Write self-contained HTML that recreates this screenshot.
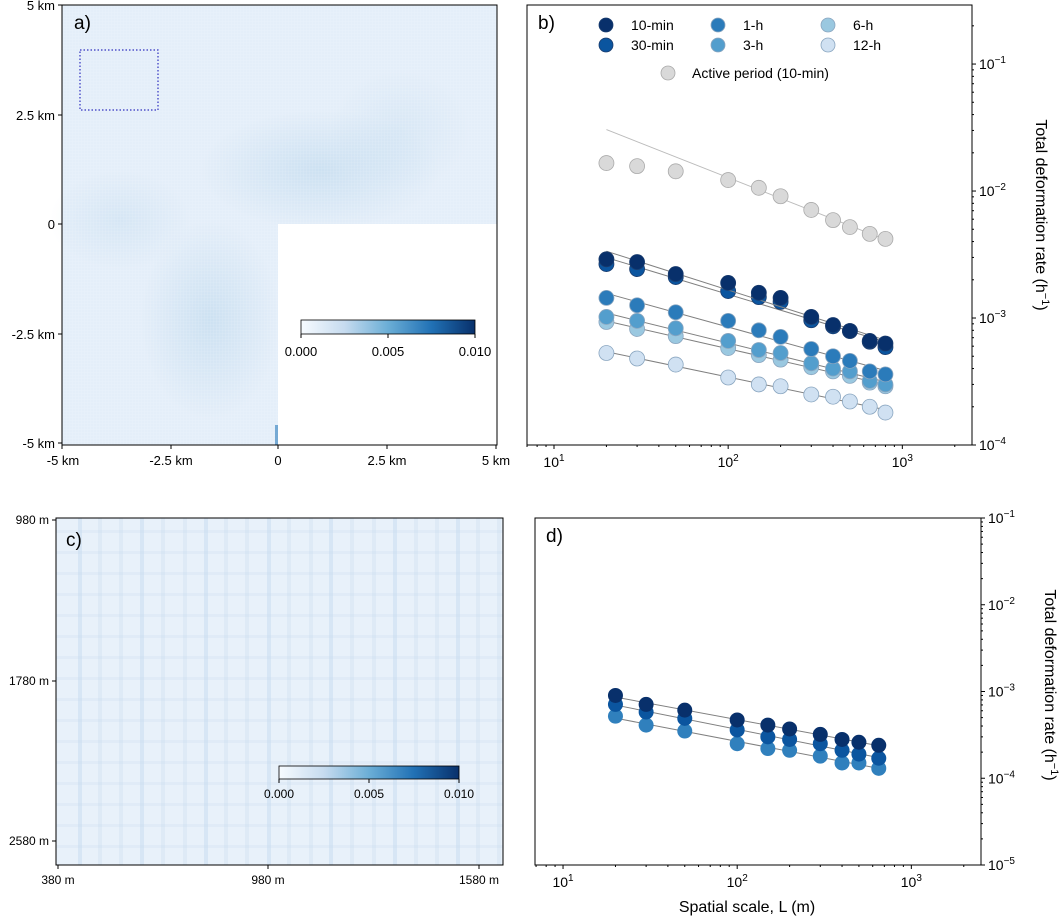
<!DOCTYPE html>
<html><head><meta charset="utf-8"><style>
body{margin:0;background:#fff;}
svg{display:block;font-family:"Liberation Sans","DejaVu Sans",sans-serif;}
</style></head><body>
<svg id="fig" width="1061" height="920" viewBox="0 0 1061 920" xmlns="http://www.w3.org/2000/svg">
<defs>
<linearGradient id="blues" x1="0" x2="1" y1="0" y2="0">
<stop offset="0" stop-color="#f7fbff"/><stop offset="0.25" stop-color="#c6dbef"/><stop offset="0.5" stop-color="#6baed6"/><stop offset="0.75" stop-color="#2171b5"/><stop offset="1" stop-color="#08306b"/>
</linearGradient>
<pattern id="gridA" width="3" height="3" patternUnits="userSpaceOnUse"><path d="M0 0H3M0 0V3" stroke="#ffffff" stroke-opacity="0.3" stroke-width="0.6"/></pattern>
<radialGradient id="blob"><stop offset="0" stop-color="#a9cde6" stop-opacity="0.4"/><stop offset="1" stop-color="#a9cde6" stop-opacity="0"/></radialGradient>
</defs>

<g>
<rect x="62" y="5" width="435" height="440" fill="#e4eef9"/>
<ellipse cx="320" cy="170" rx="120" ry="60" fill="url(#blob)"/>
<ellipse cx="210" cy="320" rx="70" ry="100" fill="url(#blob)"/>
<ellipse cx="120" cy="220" rx="70" ry="50" fill="url(#blob)" opacity="0.6"/>
<ellipse cx="400" cy="130" rx="70" ry="60" fill="url(#blob)" opacity="0.5"/>
<rect x="62" y="5" width="435" height="440" fill="url(#gridA)"/>
<rect x="278" y="224" width="219" height="221" fill="#fff"/>
<rect x="275" y="425" width="3" height="20" fill="#2b7bba" opacity="0.6"/>
<rect x="80" y="50" width="78" height="60" fill="none" stroke="#3030c0" stroke-width="1.2" stroke-dasharray="1.5,2"/>
<rect x="62" y="5" width="435" height="440" fill="none" stroke="#000" stroke-width="1"/>
<text x="74" y="29" font-size="19">a)</text>
<g font-size="13">
<g stroke="#000"><line x1="58" x2="62" y1="5" y2="5"/><line x1="58" x2="62" y1="115" y2="115"/><line x1="58" x2="62" y1="224" y2="224"/><line x1="58" x2="62" y1="334" y2="334"/><line x1="58" x2="62" y1="443" y2="443"/>
<line x1="62" x2="62" y1="445" y2="449"/><line x1="171" x2="171" y1="445" y2="449"/><line x1="278" x2="278" y1="445" y2="449"/><line x1="387" x2="387" y1="445" y2="449"/><line x1="496" x2="496" y1="445" y2="449"/></g>
<g text-anchor="end"><text x="55" y="10">5 km</text><text x="55" y="120">2.5 km</text><text x="55" y="229">0</text><text x="55" y="339">-2.5 km</text><text x="55" y="448">-5 km</text></g>
<g text-anchor="middle"><text x="63" y="465">-5 km</text><text x="171" y="465">-2.5 km</text><text x="278" y="465">0</text><text x="387" y="465">2.5 km</text><text x="496" y="465">5 km</text></g>
</g>
<g>
<rect x="301" y="320" width="174" height="14" fill="url(#blues)" stroke="#000" stroke-width="0.8"/>
<g stroke="#000"><line x1="301" x2="301" y1="334" y2="338"/><line x1="388" x2="388" y1="334" y2="338"/><line x1="475" x2="475" y1="334" y2="338"/></g>
<g font-size="13" text-anchor="middle"><text x="301" y="356">0.000</text><text x="388" y="356">0.005</text><text x="475" y="356">0.010</text></g>
</g>
</g>

<g>
<rect x="56" y="518" width="447" height="347" fill="#e8f1fa"/>
<g id="stripes"></g>
<rect x="56" y="518" width="447" height="347" fill="none" stroke="#000" stroke-width="1"/>
<text x="66" y="546" font-size="19">c)</text>
<g font-size="12">
<g stroke="#000"><line x1="52" x2="56" y1="520" y2="520"/><line x1="52" x2="56" y1="681" y2="681"/><line x1="52" x2="56" y1="841" y2="841"/>
<line x1="58" x2="58" y1="865" y2="869"/><line x1="268" x2="268" y1="865" y2="869"/><line x1="479" x2="479" y1="865" y2="869"/></g>
<g text-anchor="end"><text x="49" y="524">980 m</text><text x="49" y="685">1780 m</text><text x="49" y="845">2580 m</text></g>
<g text-anchor="middle"><text x="58" y="884">380 m</text><text x="268" y="884">980 m</text><text x="479" y="884">1580 m</text></g>
</g>
<g>
<rect x="279" y="766" width="180" height="13" fill="url(#blues)" stroke="#000" stroke-width="0.8"/>
<g stroke="#000"><line x1="279" x2="279" y1="779" y2="783"/><line x1="369" x2="369" y1="779" y2="783"/><line x1="459" x2="459" y1="779" y2="783"/></g>
<g font-size="12" text-anchor="middle"><text x="279" y="798">0.000</text><text x="369" y="798">0.005</text><text x="459" y="798">0.010</text></g>
</g>
</g>

<g id="panelB"></g>
<g id="panelD"></g>
</svg>
<script>
const scalesB = [20,30,50,100,150,200,300,400,500,650,800];
const seriesNames = ["10-min","30-min","1-h","3-h","6-h","12-h"];
const seriesColors = ["#08306b","#0b559f","#2b7bba","#539ecd","#9ac8e0","#d0e1f2"];
const rate10min = [0.0029,0.00276,0.00222,0.00189,0.00158,0.00144,0.00102,0.00088,0.00079,0.00066,0.00063];
const rate30min = [0.00266,0.00243,0.0021,0.00163,0.00146,0.00134,0.00096,0.00086,0.00079,0.00065,0.00059];
const rate1h = [0.00144,0.00126,0.00111,0.00095,0.0008,0.00071,0.00057,0.0005,0.00046,0.00038,0.00036];
const rate3h = [0.00102,0.00095,0.00083,0.00066,0.00056,0.00053,0.00044,0.0004,0.00038,0.00032,0.0003];
const rate6h = [0.00093,0.00082,0.00072,0.00058,0.00051,0.00047,0.00041,0.00038,0.00035,0.00031,0.00029];
const rate12h = [0.00053,0.00048,0.00043,0.00034,0.0003,0.00029,0.00025,0.00024,0.00022,0.0002,0.00018];
const rateActive = [0.0166,0.0157,0.0143,0.0122,0.0106,0.0091,0.0071,0.0059,0.0052,0.0046,0.0042];
const scalesD = [20,30,50,100,150,200,300,400,500,650];
const dRate10min = [0.0009,0.00071,0.00061,0.00047,0.00041,0.00037,0.00032,0.00028,0.00026,0.00024];
const dRate30min = [0.00071,0.00058,0.00049,0.00036,0.0003,0.00028,0.00025,0.00021,0.00019,0.00017];
const dRate1h = [0.00052,0.00041,0.00035,0.00025,0.00022,0.00021,0.00018,0.00015,0.00015,0.00013];
const yTicksB = [-4,-3,-2,-1];
const yTicksD = [-5,-4,-3,-2,-1];
const xTickExp = [1,2,3];

const NS="http://www.w3.org/2000/svg";
function mk(tag,attrs,parent){const e=document.createElementNS(NS,tag);for(const k in attrs)e.setAttribute(k,attrs[k]);parent.appendChild(e);return e;}
function fit(xs,ys){const lx=xs.map(Math.log10),ly=ys.map(Math.log10);const n=lx.length;const mx=lx.reduce((a,b)=>a+b)/n,my=ly.reduce((a,b)=>a+b)/n;let sxy=0,sxx=0;for(let i=0;i<n;i++){sxy+=(lx[i]-mx)*(ly[i]-my);sxx+=(lx[i]-mx)**2;}const b=sxy/sxx;return x=>Math.pow(10,my+b*(Math.log10(x)-mx));}

function panel(g,cfg){
  const X=v=>cfg.x0+(Math.log10(v)-cfg.xmin)/(cfg.xmax-cfg.xmin)*(cfg.x1-cfg.x0);
  const Y=v=>cfg.y1-(Math.log10(v)-cfg.ymin)/(cfg.ymax-cfg.ymin)*(cfg.y1-cfg.y0);
  const fr=mk('rect',{x:cfg.x0,y:cfg.y0,width:cfg.x1-cfg.x0,height:cfg.y1-cfg.y0,fill:'none',stroke:'#000','stroke-width':1},g);
  
  
  for(let e=0;e<=3;e++){for(let m=1;m<10;m++){const v=m*Math.pow(10,e);const lv=Math.log10(v);if(lv<cfg.xmin||lv>cfg.xmax)continue;const x=X(v);mk('line',{x1:x,x2:x,y1:cfg.y1,y2:cfg.y1+(m===1?4:2),stroke:'#000'},g);}}
  xTickExp.forEach(e=>{const t=mk('text',{x:X(Math.pow(10,e)),y:cfg.y1+22,'font-size':14,'text-anchor':'middle'},g);t.innerHTML='10<tspan dy="-6" font-size="10">'+e+'</tspan>';
    
    });
  for(let e=cfg.ymin;e<cfg.ymax+0.5;e++){const ef=Math.floor(e);for(let m=1;m<10;m++){const v=m*Math.pow(10,ef);const lv=Math.log10(v);if(lv<cfg.ymin-1e-9||lv>cfg.ymax+1e-9)continue;const y=Y(v);mk('line',{x1:cfg.x1,x2:cfg.x1+(m===1?4:2),y1:y,y2:y,stroke:'#000'},g);}}
  cfg.yt.forEach(e=>{const t=mk('text',{x:cfg.x1+7,y:Y(Math.pow(10,e))+5,'font-size':14},g);t.innerHTML='10<tspan dy="-6" font-size="10">\u2212'+(-e)+'</tspan>';
    
    });
  const yt=mk('text',{x:0,y:0,'font-size':16,'text-anchor':'middle',transform:`translate(${cfg.x1+64},${cfg.ytitleY}) rotate(90)`},g);
  yt.innerHTML='Total deformation rate (h<tspan dy="-6" font-size="11">\u22121</tspan><tspan dy="6">)</tspan>';
  
  
  const lab=mk('text',{x:cfg.x0+11,y:cfg.y0+24,'font-size':19},g);lab.textContent=cfg.id.slice(-1)+')';
  
  
  return {X,Y};
}
function series(g,ax,xs,ys,fill,stroke,lineCol,name,lineXs){
  const f=fit(lineXs?lineXs.xs:xs,lineXs?lineXs.ys:ys);
  const lx0=xs[0],lx1=xs[xs.length-1];
  const ln=mk('line',{x1:ax.X(lx0),y1:ax.Y(f(lx0)),x2:ax.X(lx1),y2:ax.Y(f(lx1)),stroke:lineCol,'stroke-width':1},g);
  
  
  xs.forEach((x,i)=>{const c=mk('circle',{cx:ax.X(x),cy:ax.Y(ys[i]),r:7.5,fill:fill,stroke:stroke,'stroke-width':0.8},g);
    
    });
}
const gB=document.getElementById('panelB');
const axB=panel(gB,{id:'panel-b',x0:527,x1:972,y0:5,y1:445,xmin:0.845,xmax:3.40,ymin:-4,ymax:-0.535,yt:yTicksB,ytitleY:215});
series(gB,axB,scalesB,rateActive,'#d9d9d9','#aaaaaa','#bbbbbb','active-period',{xs:scalesB.slice(3),ys:rateActive.slice(3)});
const allB=[rate10min,rate30min,rate1h,rate3h,rate6h,rate12h];
for(let k=5;k>=0;k--) series(gB,axB,scalesB,allB[k],seriesColors[k],k<2?'#1a3c6e':'#8aa6c0','#808080',seriesNames[k]);
const legPos=[[606,25],[606,45],[718,25],[718,45],[828,25],[828,45]];
seriesNames.forEach((n,i)=>{const [x,y]=legPos[i];
  const c=mk('circle',{cx:x,cy:y,r:7,fill:seriesColors[i],stroke:i<2?'#1a3c6e':'#8aa6c0','stroke-width':0.8},gB);
  
  
  const t=mk('text',{x:x+25,y:y+5,'font-size':14},gB);t.textContent=n;
  
  });
const ac=mk('circle',{cx:668,cy:73,r:7,fill:'#d9d9d9',stroke:'#aaaaaa','stroke-width':0.8},gB);


const at=mk('text',{x:692,y:78,'font-size':14},gB);at.textContent='Active period (10-min)';


const gD=document.getElementById('panelD');
const axD=panel(gD,{id:'panel-d',x0:535,x1:981,y0:518,y1:865,xmin:0.839,xmax:3.40,ymin:-5,ymax:-1,yt:yTicksD,ytitleY:685});
const allD=[dRate10min,dRate30min,dRate1h];
const dCols=["#08306b","#0b559f","#3080bd"];
for(let k=2;k>=0;k--) series(gD,axD,scalesD,allD[k],dCols[k],'none','#808080','d-'+seriesNames[k]);
const xl=mk('text',{x:747,y:912,'font-size':16,'text-anchor':'middle'},gD);xl.textContent='Spatial scale, L (m)';


const st=document.getElementById('stripes');
const vx=[80,100,121,142,163,185,206,226,247,269,289,311,331,352,374,395,416,437,458,478,499];
vx.forEach((x,i)=>{const r=mk('rect',{x:x-2,y:518,width:4,height:347,fill:'#c6dbef',opacity:(i%3===0?0.5:0.3)},st);
  
  });
for(let y=530;y<865;y+=21){const r=mk('rect',{x:56,y:y,width:447,height:3,fill:'#c6dbef',opacity:0.25},st);
  
  }
</script>
</body></html>
